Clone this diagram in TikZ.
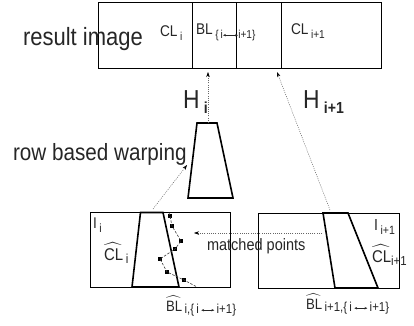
\documentclass[tikz,border=0pt]{standalone}
\usepackage{amsmath}
\usepackage{fontspec}
\setmainfont[FakeStretch=0.88]{Liberation Sans}
\usetikzlibrary{arrows.meta}
\newcommand\fs[1]{\fontsize{#1}{#1}\selectfont}
\newcommand\dn[3]{\raisebox{-#1}{\fs{#2}#3}}
\newcommand\lrarr[1]{\tikz[baseline=-2.8pt]\draw[line width=0.45pt,{Stealth[length=2.8pt,width=2.4pt]}-{Stealth[length=2.8pt,width=2.4pt]}](0pt,0pt)--(#1,0pt);}
\begin{document}
\begin{tikzpicture}[x=1pt,y=-1pt,
  box/.style={draw=black,line width=0.8pt},
  trap/.style={draw=black,line width=1.6pt,line join=miter},
  lbl/.style={anchor=base west,inner sep=0pt,outer sep=0pt,text=black!85},
  conn/.style={draw=black!60,line width=0.5pt,dash pattern=on 1pt off 1.2pt,
    -{Stealth[length=5pt,width=3.5pt,color=black]}},
  chain/.style={draw=black!75,line width=0.6pt,dash pattern=on 2.5pt off 1.5pt},
  pt/.style={fill=black,inner sep=0pt,minimum size=3.2pt,rectangle}]
\useasboundingbox (0,0) rectangle (414,325);

% ---------- result image box ----------
\coordinate (rtl) at (98.5,2.5);
\coordinate (rbr) at (381.7,68);
\draw[box] (rtl) rectangle (rbr);
\coordinate (d1t) at (192.5,2.5); \coordinate (d1b) at (192.5,68);
\coordinate (d2t) at (236,2.5);   \coordinate (d2b) at (236,68);
\coordinate (d3t) at (281.7,2.5); \coordinate (d3b) at (281.7,68);
\draw[box] (d1t) -- (d1b) (d2t) -- (d2b) (d3t) -- (d3b);

\node[lbl,font=\fs{25}] (res) at (23,45) {result image};
\node[lbl,font=\fs{15.5}] (cli) at (160,36) {CL\,\dn{4pt}{11.5}{i}};
\node[lbl,font=\fs{15.5}] (bl) at (196,34) {BL\,\dn{4pt}{11.5}{\{\,i\lrarr{15pt}i+1\}}};
\node[lbl,font=\fs{15.5}] (clj) at (291,34) {CL\,\dn{4pt}{11.5}{i+1}};

% ---------- middle trapezoid ----------
\coordinate (m1) at (197,123); \coordinate (m2) at (217,123);
\coordinate (m3) at (233,198); \coordinate (m4) at (188,198);
\draw[trap] (m1) -- (m2) -- (m3) -- (m4) -- cycle;
\node[lbl,font=\fs{23.5}] (rbw) at (13,160) {row based warping};

\node[lbl,font=\fs{26}] (hi) at (183,108) {H\,\dn{5pt}{16}{\textbf{i}}};
\node[lbl,font=\fs{26}] (hj) at (303,108) {H\,\dn{5pt}{16}{\textbf{i+1}}};

% ---------- bottom left image ----------
\coordinate (l1) at (90,212.5); \coordinate (l2) at (230,287);
\draw[box] (l1) rectangle (l2);
\coordinate (lt1) at (140.5,212.5); \coordinate (lt2) at (163,212.5);
\coordinate (lt3) at (179,287);     \coordinate (lt4) at (132,287);
\draw[trap] (lt1) -- (lt2) -- (lt3) -- (lt4) -- cycle;
\node[lbl,font=\fs{15.5}] (ii) at (93,228) {I\,\dn{4pt}{12}{i}};
\node[lbl,font=\fs{17}] (clhi) at (104,260) {$\widehat{\text{CL}}$\,\dn{3pt}{13}{i}};
\node[lbl,font=\fs{15}] (blhi) at (166,311) {$\widehat{\text{BL}}$\,\dn{2pt}{13}{i,\{\,i\,\lrarr{13pt}\,i+1\}}};

% matched chain
\coordinate (c0) at (169,212.5);
\node[pt] (p1) at (170,216) {};
\node[pt] (p2) at (172,226) {};
\node[pt] (p3) at (181,241) {};
\node[pt] (p4) at (175,249) {};
\node[pt] (p5) at (160,259) {};
\node[pt] (p6) at (167,272) {};
\node[pt] (p7) at (184,280) {};
\coordinate (c8) at (197,287);
\draw[chain] (c0) -- (p1.center) -- (p2.center) -- (p3.center) -- (p4.center)
  -- (p5.center) -- (p6.center) -- (p7.center) -- (c8);

% ---------- bottom right image ----------
\coordinate (r1) at (258,213); \coordinate (r2) at (399,288);
\draw[box] (r1) rectangle (r2);
\coordinate (rt1) at (323,213); \coordinate (rt2) at (348,213);
\coordinate (rt3) at (378,288); \coordinate (rt4) at (335,288);
\draw[trap] (rt1) -- (rt2) -- (rt3) -- (rt4) -- cycle;
\node[lbl,font=\fs{16}] (ij) at (374,230) {I\,\dn{4pt}{12}{i+1}};
\node[lbl,font=\fs{17}] (clhj) at (372,262) {$\widehat{\text{CL}}$\dn{3pt}{13}{i+1}};
\node[lbl,font=\fs{15}] (blhj) at (306,309) {$\widehat{\text{BL}}$\,\dn{2pt}{13}{i+1,\{\,i\,\lrarr{13pt}\,i+1\}}};

\node[lbl,font=\fs{16.5}] (mp) at (207,250) {matched points};

% ---------- dotted arrows ----------
\coordinate (a1s) at (208,123); \coordinate (a1e) at (208,72);
\draw[conn] (a1s) -- (a1e);
\coordinate (a2s) at (330,210); \coordinate (a2e) at (277,72);
\draw[conn] (a2s) -- (a2e);
\coordinate (a3s) at (153,209); \coordinate (a3e) at (187,165);
\draw[conn] (a3s) -- (a3e);
\coordinate (a4s) at (322,233); \coordinate (a4e) at (194,233);
\draw[conn] (a4s) -- (a4e);
\end{tikzpicture}
\end{document}
